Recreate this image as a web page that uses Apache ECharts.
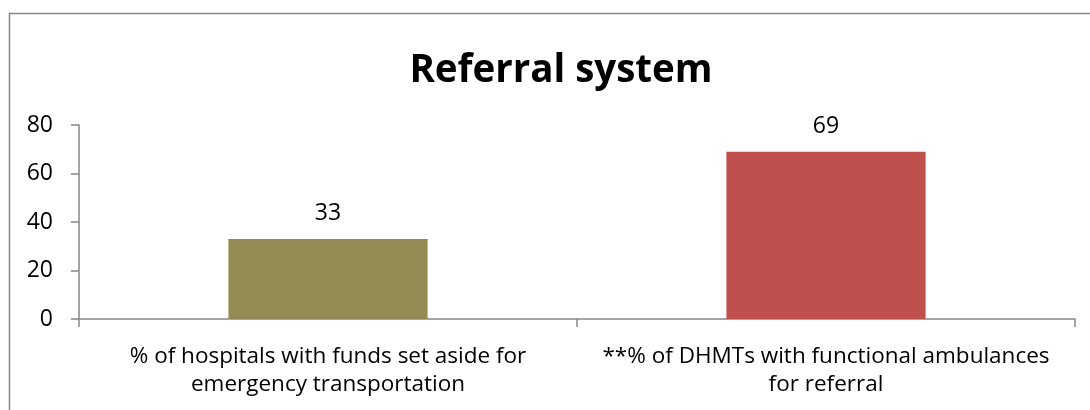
<!DOCTYPE html>
<html>
<head>
<meta charset="utf-8">
<script src="https://cdn.jsdelivr.net/npm/echarts@6/dist/echarts.min.js"></script>
<style>
html,body{margin:0;padding:0;background:#fff;}
#chart{width:1090px;height:410px;}
</style>
</head>
<body>
<div id="chart"></div>
<script>
const titleText = 'Referral system';
const categories = [
  '% of hospitals with funds set aside for\nemergency transportation',
  '**% of DHMTs with functional ambulances\nfor referral'
];
const values = [33, 69];
const barColors = ['#948A54', '#C0504D'];
const yTicks = { min: 0, max: 80, interval: 20 };

const FONT = '"Open Sans", sans-serif';
const chart = echarts.init(document.getElementById('chart'), null, { renderer: 'canvas' });
chart.setOption({
  backgroundColor: '#ffffff',
  animation: false,
  graphic: [{
    type: 'rect',
    shape: { x: 9.5, y: 13.5, width: 1200, height: 500 },
    style: { fill: 'none', stroke: '#878787', lineWidth: 1.5 },
    silent: true
  }],
  title: {
    text: titleText,
    left: 556, top: 47,
    textAlign: 'center',
    textStyle: { fontFamily: FONT, fontWeight: 'bold', fontSize: 38.5, color: '#000' }
  },
  grid: { left: 79, right: 15, top: 125, bottom: 91, containLabel: false },
  xAxis: {
    type: 'category',
    data: categories,
    boundaryGap: true,
    axisLine: { lineStyle: { color: '#868686', width: 1.5 } },
    axisTick: { show: true, alignWithLabel: false, length: 8, lineStyle: { color: '#868686', width: 1.5 } },
    axisLabel: { interval: 0, margin: 23, fontFamily: FONT, fontSize: 22.5, lineHeight: 28.5, color: '#000' },
    splitLine: { show: false }
  },
  yAxis: {
    type: 'value',
    min: yTicks.min, max: yTicks.max, interval: yTicks.interval,
    axisLine: { show: true, lineStyle: { color: '#868686', width: 1.5 } },
    axisTick: { show: true, length: 8, lineStyle: { color: '#868686', width: 1.5 } },
    axisLabel: { margin: 26, fontFamily: FONT, fontSize: 23, color: '#000' },
    splitLine: { show: false }
  },
  series: [{
    type: 'bar',
    data: values.map((v, i) => ({ value: v, itemStyle: { color: barColors[i] } })),
    barWidth: '40%',
    label: { show: true, position: 'top', distance: 14, fontFamily: FONT, fontSize: 23, color: '#000' }
  }]
});
</script>
</body>
</html>
